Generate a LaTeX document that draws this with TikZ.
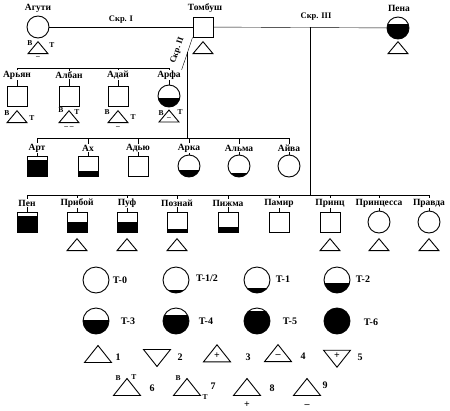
\documentclass[tikz,border=0pt]{standalone}
\usepackage{fontspec}
\setmainfont{Liberation Serif}
\usetikzlibrary{shapes.geometric,calc,backgrounds}

\begin{document}
\begin{tikzpicture}[x=1pt,y=-1pt,line width=0.9pt,font=\bfseries\fontsize{9.5}{10}\selectfont]
    % `male' and `female' are the animals, the argument is the black part.
    % `keycirc' is used for the circles of the key below.
    \tikzset{
      male/.style={draw,fill=white,minimum size=20pt,inner sep=0pt,
        path picture={\fill[black] (path picture bounding box.south west) rectangle
          ($(path picture bounding box.south east)!#1!(path picture bounding box.north east)$);}},
      male/.default=0,
      female/.style={male=#1,circle,minimum size=22pt},
      female/.default=0,
      keycirc/.style={male=#1,circle,minimum size=26pt},
      keycirc/.default=0}
    % `tri' is the triangle under an animal, `bigtri' the one in the key.
    \tikzstyle{tri} = [draw,fill=white,isosceles triangle,isosceles triangle stretches,
      shape border rotate=90,minimum width=20pt,minimum height=12pt,inner sep=0pt]
    \tikzstyle{bigtri} = [tri,minimum width=27pt,minimum height=17pt]
    \tikzstyle{downtri} = [bigtri,shape border rotate=270]
    \tikzstyle{lab} = [fill=white,inner sep=0.5pt]
    \tikzstyle{bt} = [font=\bfseries\fontsize{7.5}{8}\selectfont,inner sep=0pt]
    \tikzstyle{keytext} = [font=\bfseries\fontsize{10}{11}\selectfont,inner sep=0pt]
    \tikzstyle{sign} = [font=\bfseries\fontsize{10}{11}\selectfont]
    \tikzstyle{cross} = [font=\bfseries\fontsize{8.5}{9}\selectfont]
    \useasboundingbox (0,0) rectangle (450,410);
    %
    \node[female] (ag) at (38,27) {};
    \node[lab] (agL) at (38,8) {Агути};
    \node[male] (tb) at (203,27) {};
    \node[lab] (tbL) at (205,8) {Томбуш};
    \node[female=0.7] (pe) at (398,28) {};
    \node[lab] (peL) at (399,8) {Пена};
    \node[tri] (agTr) at (38,49) {};
    \node[bt] (agB) at (30,43) {В};
    \node[bt] (agT) at (52,45) {Т};
    \node[bt] (agM) at (38,57) {–};
    \node[tri] (tbTr) at (203,49) {};
    \node[tri] (peTr) at (398,49) {};
    \coordinate (k3) at (310,27);
    %
    \coordinate (bar2) at (0,68);
    \node[male] (arj) at (17,96) {};
    \node[lab] (arjL) at (17,75) {Арьян};
    \node[male] (alb) at (69,96) {};
    \node[lab] (albL) at (69,75) {Албан};
    \node[male] (ada) at (118,96) {};
    \node[lab] (adaL) at (118,75) {Адай};
    \node[female=0.4] (arf) at (169,96) {};
    \node[lab] (arfL) at (169,75) {Арфа};
    \node[tri] (arjTr) at (17,118) {};
    \node[bt] (arjB) at (7,113) {В};
    \node[bt] (arjT) at (32,118) {Т};
    \node[tri] (albTr) at (69,118) {};
    \node[bt] (albB) at (61,110) {В};
    \node[bt] (albT) at (77,112) {Т};
    \node[bt] (albM) at (69,127) {– –};
    \node[tri] (adaTr) at (118,118) {};
    \node[bt] (adaB) at (107,112) {В};
    \node[bt] (adaT) at (133,117) {Т};
    \node[bt] (adaM) at (118,127) {–};
    \node[tri,font=\bfseries\fontsize{7.5}{8}\selectfont] (arfTr) at (169,118) {–};
    \node[bt] (arfB) at (161,113) {В};
    \node[bt] (arfT) at (180,112) {Т};
    %
    \coordinate (bar3) at (0,138);
    \node[male=0.8] (art) at (37,166) {};
    \node[lab] (artL) at (37,148) {Арт};
    \node[male=0.25] (ah) at (88,166) {};
    \node[lab] (ahL) at (88,148) {Ах};
    \node[male] (adj) at (138,166) {};
    \node[lab] (adjL) at (138,148) {Адью};
    \node[female=0.3] (ark) at (189,166) {};
    \node[lab] (arkL) at (189,148) {Арка};
    \node[female=0.18] (alm) at (239,166) {};
    \node[lab] (almL) at (239,148) {Альма};
    \node[female] (ajv) at (289,166) {};
    \node[lab] (ajvL) at (289,148) {Айва};
    %
    \coordinate (bar4) at (0,195);
    \node[male=0.8] (pen) at (27,222) {};
    \node[lab] (penL) at (27,203) {Пен};
    \node[male=0.52] (prb) at (77,222) {};
    \node[lab] (prbL) at (77,203) {Прибой};
    \node[male=0.48] (puf) at (127,222) {};
    \node[lab] (pufL) at (127,203) {Пуф};
    \node[male=0.15] (poz) at (177,222) {};
    \node[lab] (pozL) at (177,203) {Познай};
    \node[male=0.25] (pig) at (228,222) {};
    \node[lab] (pigL) at (228,203) {Пижма};
    \node[male] (pam) at (279,222) {};
    \node[lab] (pamL) at (279,203) {Памир};
    \node[male] (prc) at (330,222) {};
    \node[lab] (prcL) at (330,203) {Принц};
    \node[female] (prs) at (379,222) {};
    \node[lab] (prsL) at (379,203) {Принцесса};
    \node[female] (prv) at (429,222) {};
    \node[lab] (prvL) at (429,203) {Правда};
    \node[tri] (prbTr) at (77,246) {};
    \node[tri] (pufTr) at (127,246) {};
    \node[tri] (pozTr) at (177,246) {};
    \node[tri] (prcTr) at (330,246) {};
    \node[tri] (prsTr) at (379,246) {};
    \node[tri] (prvTr) at (429,246) {};
    %
    % The key.
    \node[keycirc] (t0) at (96,280) {};
    \node[keytext] (t0L) at (120,280) {T-0};
    \node[keycirc=0.1] (t12) at (176,280) {};
    \node[keytext] (t12L) at (207,278) {T-1/2};
    \node[keycirc=0.2] (t1) at (257,280) {};
    \node[keytext] (t1L) at (283,279) {T-1};
    \node[keycirc=0.4] (t2) at (337,280) {};
    \node[keytext] (t2L) at (363,279) {T-2};
    \node[keycirc=0.55] (t3) at (96,321) {};
    \node[keytext] (t3L) at (128,321) {T-3};
    \node[keycirc=0.72] (t4) at (176,321) {};
    \node[keytext] (t4L) at (206,321) {T-4};
    \node[keycirc=0.9] (t5) at (257,321) {};
    \node[keytext] (t5L) at (290,321) {T-5};
    \node[keycirc=1] (t6) at (337,321) {};
    \node[keytext] (t6L) at (371,322) {T-6};
    %
    \node[bigtri] (d1) at (98,356) {};
    \node[keytext] (d1L) at (118,357) {1};
    \node[downtri] (d2) at (157,356) {};
    \node[keytext] (d2L) at (180,357) {2};
    \node[bigtri,sign] (d3) at (217,356) {+};
    \node[keytext] (d3L) at (248,357) {3};
    \node[bigtri,sign] (d4) at (278,356) {–};
    \node[keytext] (d4L) at (303,356) {4};
    \node[downtri,sign] (d5) at (337,356) {+};
    \node[keytext] (d5L) at (360,357) {5};
    \node[bigtri] (d6) at (127,389) {};
    \node[bt] (d6B) at (118,378) {В};
    \node[bt] (d6T) at (134,377) {Т};
    \node[keytext] (d6L) at (152,388) {6};
    \node[bigtri] (d7) at (187,389) {};
    \node[bt] (d7B) at (178,378) {В};
    \node[bt] (d7T) at (205,397) {Т};
    \node[keytext] (d7L) at (213,386) {7};
    \node[bigtri] (d8) at (247,389) {};
    \node[sign] (d8M) at (247,405) {+};
    \node[keytext] (d8L) at (272,388) {8};
    \node[bigtri] (d9) at (307,389) {};
    \node[sign] (d9M) at (307,406) {–};
    \node[keytext] (d9L) at (325,385) {9};
    %
  \begin{pgfonlayer}{background}
        % Draw matings.
        \draw (ag) -- node[above,cross] (s1) {Скр. I} (tb);
        \draw (tb) -- (pe);
        \node[cross] (s3) at (316,17) {Скр. III};
        \draw (tb.south west) -- node[sloped,above=3pt,cross] (s2) {Скр. II} (arfL.north east);
        \coordinate (k2) at ($(tb.south west)!0.45!(arfL.north east)$);
        % Draw lines to the offspring.
        \draw (k2) -- (k2 |- bar3)  (k3) -- (k3 |- bar4)
              (arj |- bar2) -- (arf |- bar2)  (art |- bar3) -- (ajv |- bar3)
              (pen |- bar4) -- (prv |- bar4);
        \draw (arj |- bar2) -- (arj)  (alb |- bar2) -- (alb)
              (ada |- bar2) -- (ada)  (arf |- bar2) -- (arf)
              (art |- bar3) -- (art)  (ah |- bar3) -- (ah)  (adj |- bar3) -- (adj)
              (ark |- bar3) -- (ark)  (alm |- bar3) -- (alm)  (ajv |- bar3) -- (ajv)
              (pen |- bar4) -- (pen)  (prb |- bar4) -- (prb)  (puf |- bar4) -- (puf)
              (poz |- bar4) -- (poz)  (pig |- bar4) -- (pig)  (pam |- bar4) -- (pam)
              (prc |- bar4) -- (prc)  (prs |- bar4) -- (prs)  (prv |- bar4) -- (prv);
    \end{pgfonlayer}
\end{tikzpicture}
\end{document}
